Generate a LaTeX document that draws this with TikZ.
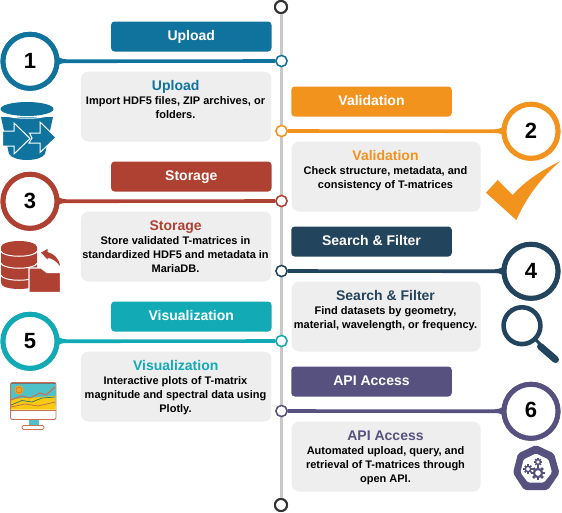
\documentclass[tikz,border=0pt]{standalone}
\usepackage{fontspec}
\setmainfont{Liberation Sans}
\definecolor{cblue}{HTML}{10739E}
\definecolor{corange}{HTML}{F2931E}
\definecolor{cred}{HTML}{AE4132}
\definecolor{cdark}{HTML}{23445D}
\definecolor{cteal}{HTML}{12AAB5}
\definecolor{cpurple}{HTML}{56517E}
\definecolor{cgrayfill}{HTML}{EEEEEE}
\definecolor{cspine}{HTML}{C8C8C8}
\definecolor{cend}{HTML}{333333}
\definecolor{csalmon}{HTML}{C8714F}
\definecolor{cscreen}{HTML}{4FC1C9}
\definecolor{cyellow}{HTML}{F7C90F}
\tikzset{
  x=1pt,y=-1pt,
  headbox/.style={draw=none,fill=#1,rounded corners=3.5pt,minimum width=160.5pt,minimum height=30pt,inner sep=0pt,text=white,text height=10pt,text depth=3pt,font=\bfseries\fontsize{14}{16}\selectfont},
  cardbox/.style={fill=cgrayfill,rounded corners=7.5pt,minimum width=#1,minimum height=70pt,inner sep=0pt},
  cardtitle/.style={text=#1,text height=10pt,text depth=3pt,font=\bfseries\fontsize{14}{16}\selectfont,inner sep=0pt},
  cardbody/.style={text=black,font=\bfseries\fontsize{11}{14}\selectfont,align=center,inner sep=0pt,anchor=north},
  numring/.style={circle,draw=#1,line width=5pt,fill=white,minimum size=54pt,inner sep=0pt,text=black,font=\bfseries\fontsize{22}{24}\selectfont},
  stepdot/.style={circle,draw=#1,line width=1.4pt,fill=white,minimum size=11pt,inner sep=0pt},
  enddot/.style={circle,draw=cend,line width=2pt,fill=white,minimum size=12pt,inner sep=0pt},
  link/.style={draw=#1,line width=3.6pt},
}
\newcommand{\leftstep}[6]{% num, y, colour, title, body, number raise
  \node[stepdot=#3] (d#1) at (281.5,#2) {};
  \node[numring=#3] (c#1) at (30,#2+0.3) {};
  \fill[#3] (55,#2-9) .. controls (58,#2-3) and (61,#2-2) .. (66,#2-1.8) -- (66,#2+1.8) .. controls (61,#2+2) and (58,#2+3) .. (55,#2+9) -- cycle;
  \draw[link=#3] (c#1) -- (d#1);
  \node[stepdot=#3] (d#1) at (281.5,#2) {};
  \node[numring=#3] (c#1) at (30,#2+0.3) {\raisebox{#6}{#1}};
  \node[headbox=#3] (h#1) at (191.3,#2-24.5) {#4};
  \node[cardbox=190.5pt] (k#1) at (176.2,#2+45.5) {};
  \node[cardtitle=#3] (t#1) at (175.7,#2+25.5) {#4};
  \node[cardbody] (b#1) at (175.5,#2+35.5) {#5};
}
\newcommand{\rightstep}[6]{%
  \node[stepdot=#3] (d#1) at (281.5,#2) {};
  \node[numring=#3] (c#1) at (531,#2+0.3) {};
  \fill[#3] (506,#2-9) .. controls (503,#2-3) and (500,#2-2) .. (495,#2-1.8) -- (495,#2+1.8) .. controls (500,#2+2) and (503,#2+3) .. (506,#2+9) -- cycle;
  \draw[link=#3] (d#1) -- (c#1);
  \node[stepdot=#3] (d#1) at (281.5,#2) {};
  \node[numring=#3] (c#1) at (531,#2+0.3) {\raisebox{#6}{#1}};
  \node[headbox=#3] (h#1) at (371.5,#2-29.5) {#4};
  \node[cardbox=189pt] (k#1) at (386.2,#2+45.5) {};
  \node[cardtitle=#3] (t#1) at (385.5,#2+25.5) {#4};
  \node[cardbody] (b#1) at (385.5,#2+35.5) {#5};
}
\newcommand{\gearicon}[3]{% x,y,r
  \foreach \a in {0,45,...,315}{
    \draw[cpurple,line width=#3*0.42pt] ($(#1,#2)+(\a:#3*0.7)$) -- ($(#1,#2)+(\a:#3*1.15)$);
  }
  \draw[cpurple,line width=#3*0.36pt,fill=white] (#1,#2) circle[radius=#3*0.68];
}
\usetikzlibrary{calc}
\begin{document}
\begin{tikzpicture}
\useasboundingbox (0,0) rectangle (562,512);
\fill[white] (0,0) rectangle (562,512);
% spine
\node[enddot] (top) at (281,7) {};
\node[enddot] (bot) at (281,505) {};
\draw[cspine,line width=3pt] (top) -- (bot);
\node[enddot] at (top) {};
\node[enddot] at (bot) {};

\leftstep{1}{61}{cblue}{Upload}{Import HDF5 files, ZIP archives, or\\folders.}{0pt}
\rightstep{2}{131}{corange}{Validation}{Check structure, metadata, and\\consistency of T-matrices}{0pt}
\leftstep{3}{201}{cred}{Storage}{Store validated T-matrices in\\standardized HDF5 and metadata in\\MariaDB.}{0pt}
\rightstep{4}{271}{cdark}{Search \& Filter}{Find datasets by geometry,\\material, wavelength, or frequency.}{0pt}
\leftstep{5}{341}{cteal}{Visualization}{Interactive plots of T-matrix\\magnitude and spectral data using\\Plotly.}{0pt}
\rightstep{6}{411}{cpurple}{API Access}{Automated upload, query, and\\retrieval of T-matrices through\\open API.}{2.5pt}

% bucket icon
\fill[cblue] (1,117) -- (53,117) -- (45,154) .. controls (40,162) and (14,162) .. (9,154) -- cycle;
\draw[white,line width=1pt] (0,113) .. controls (8,120) and (46,120) .. (54,113);
\fill[cblue] (27,109) ellipse[x radius=26.5,y radius=7];
\draw[white,line width=1pt,fill=cblue,line join=miter] (2.5,131) -- (14,131) -- (14,123) -- (30,138.5) -- (14,154) -- (14,146) -- (2.5,146) -- cycle;
\draw[white,line width=1pt,fill=cblue,line join=miter] (29.5,133) -- (40,133) -- (40,122) -- (56,137.5) -- (40,152.5) -- (40,143) -- (29,143) -- (32,138) -- cycle;

% database and folder icon
\fill[cred] (1,247) -- (37,247) -- (37,283) .. controls (37,291) and (1,291) .. (1,283) -- cycle;
\fill[cred] (19,247) ellipse[x radius=18,y radius=6];
\foreach \yy in {251,263,275}{
  \draw[white,line width=1pt] (0.5,\yy) .. controls (4,\yy+7) and (34,\yy+7) .. (37.5,\yy);
}
\draw[white,line width=1.2pt,fill=cred,line join=miter] (29,268) -- (41,268) -- (47,272.5) -- (60.5,272.5) -- (60.5,292.5) -- (29,292.5) -- cycle;
\fill[cred] (41,252.5) -- (47.5,249) -- (47.5,252) .. controls (54,254) and (59,258) .. (60,266) .. controls (56,261) and (52,258) .. (47.5,258) -- (47.5,259.5) -- cycle;

% monitor icon
\fill[cscreen] (28.5,419) rectangle (38.5,426);
\draw[csalmon,line width=0.8pt,fill=white,rounded corners=1.5pt] (22,425.5) rectangle (44,429.5);
\draw[csalmon,line width=0.9pt,fill=white,rounded corners=2pt] (10.5,382.5) rectangle (56,419.5);
\fill[cscreen] (11,383) rectangle (55.5,405);
\fill[cyellow] (11,399) -- (55.5,396) -- (55.5,409.5) -- (11,409.5) -- cycle;
\draw[black!55,line width=0.6pt] (11,383) -- (55.5,383);
\draw[csalmon,line width=1.1pt] (11,400) -- (22,396) -- (30,398) -- (40,393) -- (46,395) -- (55,387);
\draw[black!40!cscreen,line width=0.7pt] (11,405) -- (22,400.5) -- (32,402) -- (42,398) -- (55,397);
\draw[csalmon,line width=0.8pt] (11,407) -- (25,404) -- (38,406) -- (55,402);
\fill[corange!60!cyellow] (19,390) circle[radius=4.6];
\draw[csalmon,line width=0.6pt] (19,390) circle[radius=3];
\draw[csalmon,line width=0.8pt] (11,410) -- (55.5,410);

% check mark
\fill[corange] (486,192.7) -- (497.7,180) -- (512.7,195) .. controls (525,181) and (542,170) .. (560.5,161) .. controls (542,177) and (527,196) .. (516.3,220) -- cycle;

% magnifier
\draw[cdark,line width=4.6pt] (522,325.7) circle[radius=18.4];
\draw[cdark,line width=3pt] (535,339) -- (541,345);
\draw[cdark,line width=7pt,line cap=round] (540.5,346.5) -- (555.5,359.5);

% heptagon with gears
\fill[cpurple,rounded corners=2pt] (536,445) -- (554,453.5) -- (559.5,473) -- (548,490) -- (524,490) -- (513,473) -- (518,453.5) -- cycle;
\fill[white,rounded corners=1.5pt] (536,453.5) -- (548.5,459.5) -- (552,472.5) -- (544,482.5) -- (528,482.5) -- (520.5,472.5) -- (523.5,459.5) -- cycle;
\gearicon{528}{469}{4}
\gearicon{538}{462}{3.4}
\gearicon{538}{473}{6}
\end{tikzpicture}
\end{document}
